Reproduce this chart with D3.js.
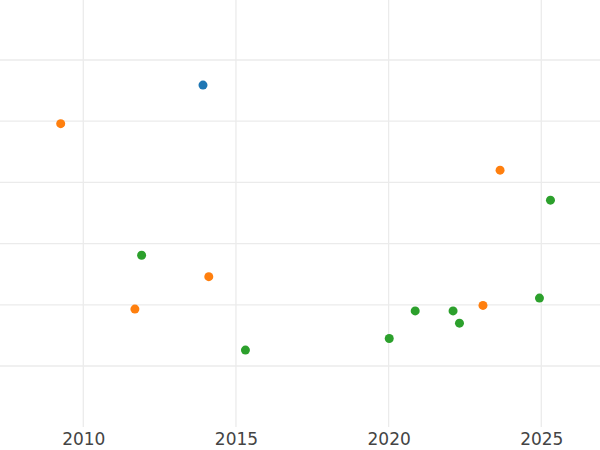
<!DOCTYPE html>
<html>
<head>
<meta charset="utf-8">
<script src="https://cdn.jsdelivr.net/npm/d3@7"></script>
<style>
  html, body { margin: 0; padding: 0; background: #fff; }
  svg { display: block; }
</style>
</head>
<body>
<svg id="chart" width="600" height="450"></svg>
<script>
// ---- data ----
const seriesNames = ["A", "B", "C"];
const seriesColors = ["#1f77b4", "#ff7f0e", "#2ca02c"];
const yearsA = [2013.92];
const valuesA = [5.59];
const yearsB = [2009.26, 2023.65, 2014.11, 2011.69, 2023.09];
const valuesB = [4.96, 4.20, 2.46, 1.93, 1.99];
const yearsC = [2011.91, 2025.30, 2015.31, 2020.02, 2020.87, 2022.11, 2022.32, 2024.94];
const valuesC = [2.81, 3.71, 1.26, 1.45, 1.90, 1.90, 1.70, 2.11];
const xTicks = [2010, 2015, 2020, 2025];
const yTicks = [1, 2, 3, 4, 5, 6];

const series = [
  { name: seriesNames[0], color: seriesColors[0], xs: yearsA, ys: valuesA },
  { name: seriesNames[1], color: seriesColors[1], xs: yearsB, ys: valuesB },
  { name: seriesNames[2], color: seriesColors[2], xs: yearsC, ys: valuesC }
];

const svg = d3.select("#chart");
const W = 600, H = 450;

// x: 2010 -> 83.3, 2025 -> 541.3
const x = d3.scaleLinear().domain([2010, 2025]).range([83.3, 541.3]);
// y: 1 -> 366, 6 -> 60
const y = d3.scaleLinear().domain([1, 6]).range([366, 60]);

const grid = svg.append("g");
grid.selectAll("line.h").data(yTicks).enter().append("line")
  .attr("x1", 0).attr("x2", W)
  .attr("y1", d => y(d)).attr("y2", d => y(d))
  .attr("stroke", "#ebebeb").attr("stroke-width", 1.3);
grid.selectAll("line.v").data(xTicks).enter().append("line")
  .attr("y1", 0).attr("y2", 427)
  .attr("x1", d => x(d)).attr("x2", d => x(d))
  .attr("stroke", "#ebebeb").attr("stroke-width", 1.3);

const xAxis = d3.axisBottom(x).tickValues(xTicks).tickFormat(d3.format("d")).tickSize(0).tickPadding(0);
const ax = svg.append("g").attr("transform", "translate(0,433)").call(xAxis);
ax.select(".domain").remove();
ax.selectAll("text")
  .attr("fill", "#444")
  .attr("font-family", "DejaVu Sans, sans-serif")
  .attr("font-size", 17)
  .attr("dy", "0.71em");

series.forEach(s => {
  svg.append("g").selectAll("circle")
    .data(s.xs.map((v, i) => [v, s.ys[i]]))
    .enter().append("circle")
    .attr("cx", d => x(d[0]))
    .attr("cy", d => y(d[1]))
    .attr("r", 4.5)
    .attr("fill", s.color);
});
</script>
</body>
</html>
